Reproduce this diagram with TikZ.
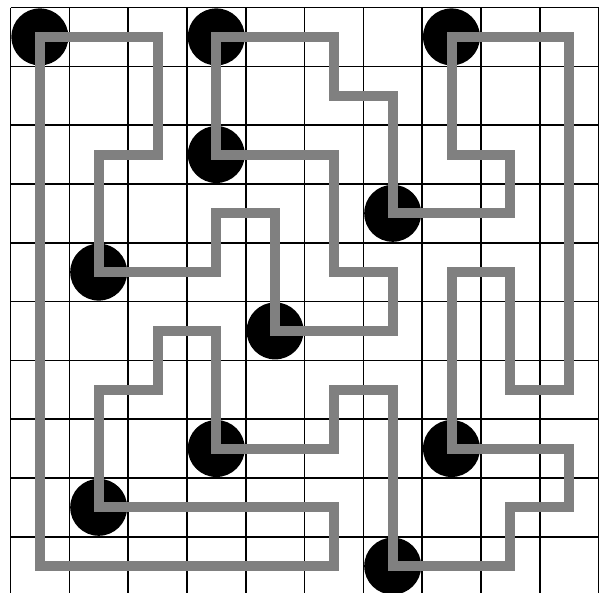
\documentclass[tikz,border=0pt]{standalone}
\usepackage{tikz}
\definecolor{pathgray}{HTML}{808080}
\tikzset{
  gridline/.style={draw=black, line width=1.6pt},
  pearl/.style={circle, fill=black, inner sep=0pt, minimum size=57pt},
  loopline/.style={draw=pathgray, line width=10pt, line join=miter}
}
\begin{document}
\begin{tikzpicture}[x=1pt,y=-1pt]
\useasboundingbox (0,0) rectangle (605,592);
\clip (0,0) rectangle (605,592);
\fill[white] (0,0) rectangle (605,592);
% grid
\foreach \k in {0,...,10} {
  \draw[gridline] ({10.5+58.8*\k},7.5) -- ({10.5+58.8*\k},600);
}
\foreach \k in {0,...,10} {
  \draw[gridline] (10.5,{7.5+58.8*\k}) -- (598.5,{7.5+58.8*\k});
}
% cell centres
\foreach \c in {0,...,9} {
  \foreach \r in {0,...,9} {
    \coordinate (p\c\r) at ({10.5+58.8*(\c+0.5)},{7.5+58.8*(\r+0.5)});
  }
}
% pearls
\node[pearl] (b1) at (p00) {};
\node[pearl] (b2) at (p30) {};
\node[pearl] (b3) at (p70) {};
\node[pearl] (b4) at (p32) {};
\node[pearl] (b5) at (p63) {};
\node[pearl] (b6) at (p14) {};
\node[pearl] (b7) at (p45) {};
\node[pearl] (b8) at (p37) {};
\node[pearl] (b9) at (p77) {};
\node[pearl] (b10) at (p18) {};
\node[pearl] (b11) at (p69) {};
% loop
\draw[loopline] (p00) -- (p20) -- (p22) -- (p12) -- (p14) -- (p34) -- (p33)
  -- (p43) -- (p45) -- (p65) -- (p64) -- (p54) -- (p52) -- (p32) -- (p30)
  -- (p50) -- (p51) -- (p61) -- (p63) -- (p83) -- (p82) -- (p72) -- (p70)
  -- (p90) -- (p96) -- (p86) -- (p84) -- (p74) -- (p77) -- (p97) -- (p98)
  -- (p88) -- (p89) -- (p69) -- (p66) -- (p56) -- (p57) -- (p37) -- (p35)
  -- (p25) -- (p26) -- (p16) -- (p18) -- (p58) -- (p59) -- (p09) -- cycle;
\end{tikzpicture}
\end{document}
